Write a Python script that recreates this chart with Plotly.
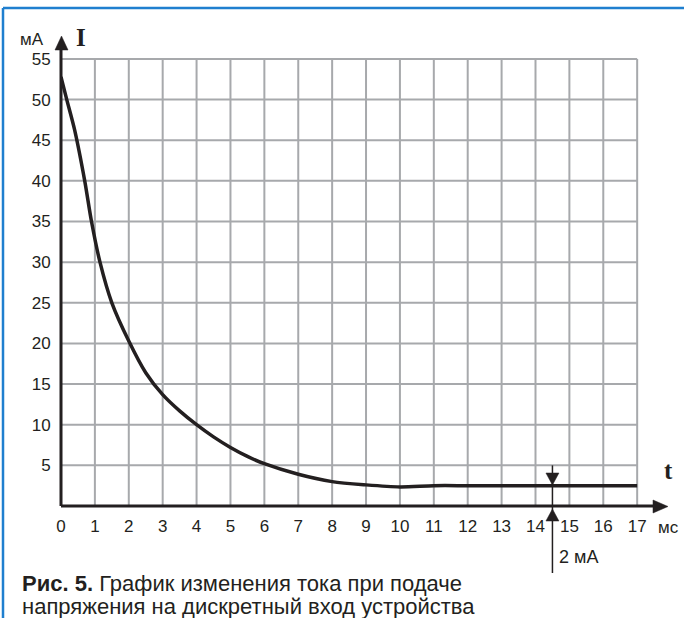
import plotly.graph_objects as go

# ---- data ----
t_ms = [0, 0.17, 0.4, 0.7, 0.9, 1.15, 1.5, 2.0, 2.5, 3.0, 3.5, 4.0, 4.5, 5, 5.5, 6, 7, 8, 9, 10, 11, 12, 13, 14, 15, 16, 17]
i_ma = [52.8, 50, 46.3, 40, 35, 30, 25, 20.3, 16.4, 13.7, 11.7, 10.0, 8.5, 7.2, 6.1, 5.2, 3.9, 3.0, 2.6, 2.35, 2.5, 2.5, 2.5, 2.5, 2.5, 2.5, 2.5]
x_ticks = list(range(0, 18))
y_ticks = list(range(5, 60, 5))
marker_t = 14.5
marker_label = "2 мА"
caption_lines = ["<b>Рис. 5.</b> График изменения тока при подаче",
                 "напряжения на дискретный вход устройства"]

# ---- geometry ----
W, H = 684, 618
L, R, T, B = 61, 17, 37, 112
XR = [0, 17.88]
YR = [0, 57.7]
pw, ph = W - L - R, H - T - B

def px(xp):  # pixel x -> paper
    return (xp - L) / pw

def py(yp):  # pixel y -> paper
    return (H - B - yp) / ph

def dx(v):  # data x -> paper
    return (v - XR[0]) / (XR[1] - XR[0])

def dy(v):
    return (v - YR[0]) / (YR[1] - YR[0])

GRID = "#a7a9ac"
INK = "#231f20"

fig = go.Figure()

# grid
gx, gy = [], []
for xv in x_ticks[1:]:
    gx += [xv, xv, None]
    gy += [0, 55, None]
for yv in y_ticks:
    gx += [0, 17, None]
    gy += [yv, yv, None]
fig.add_trace(go.Scatter(x=gx, y=gy, mode="lines", line=dict(color=GRID, width=2),
                         hoverinfo="skip", showlegend=False))

# current curve
fig.add_trace(go.Scatter(x=t_ms, y=i_ma, mode="lines",
                         line=dict(color=INK, width=3.5, shape="spline", smoothing=0.8),
                         showlegend=False))

shapes = []
# axes lines
shapes.append(dict(type="line", xref="paper", yref="paper", x0=0, y0=0, x1=px(656), y1=0,
                   line=dict(color=INK, width=3)))
shapes.append(dict(type="line", xref="paper", yref="paper", x0=0, y0=0, x1=0, y1=py(48),
                   line=dict(color=INK, width=3)))

def tri(points):
    p = "M " + " L ".join(f"{a},{b}" for a, b in points) + " Z"
    return dict(type="path", xref="paper", yref="paper", path=p,
                fillcolor=INK, line=dict(color=INK, width=0.5))

shapes.append(tri([(px(668), py(506.5)), (px(653), py(500)), (px(653), py(513))]))
shapes.append(tri([(px(61.5), py(36)), (px(55), py(50)), (px(68), py(50))]))

# 2 mA marker
mx = dx(marker_t)
mxp = L + mx * pw
shapes.append(dict(type="line", xref="paper", yref="paper", x0=mx, y0=dy(5), x1=mx, y1=py(573),
                   line=dict(color=INK, width=1.5)))
shapes.append(tri([(mx, py(485)), (px(mxp - 6.5), py(473)), (px(mxp + 6.5), py(473))]))
shapes.append(tri([(mx, py(509)), (px(mxp - 6.5), py(521)), (px(mxp + 6.5), py(521))]))

# blue frame
BLUE = "#1f7fcf"
shapes.append(dict(type="line", xref="paper", yref="paper", x0=px(3), y0=py(8), x1=px(690), y1=py(8),
                   line=dict(color=BLUE, width=2.5)))
shapes.append(dict(type="line", xref="paper", yref="paper", x0=px(3), y0=py(8), x1=px(3), y1=py(630),
                   line=dict(color=BLUE, width=2.5)))

ann = []
SANS = "Liberation Sans, Arial, Helvetica, sans-serif"
SERIF = "Liberation Serif, Times New Roman, serif"
ann.append(dict(x=px(32), y=py(39), text="мА", font=dict(family=SANS, size=17, color=INK)))
ann.append(dict(x=px(81), y=py(37), text="<b>I</b>", font=dict(family=SERIF, size=25, color=INK)))
ann.append(dict(x=px(668), y=py(470), text="<b>t</b>", font=dict(family=SERIF, size=25, color=INK)))
ann.append(dict(x=px(668), y=py(527), text="мс", font=dict(family=SANS, size=17, color=INK)))
ann.append(dict(x=px(mxp + 5), y=py(557), text=marker_label, xanchor="left",
                font=dict(family=SANS, size=18, color=INK)))
for line_text, ycen in zip(caption_lines, [583, 606]):
    ann.append(dict(x=px(20), y=py(ycen), text=line_text, xanchor="left", align="left",
                    font=dict(family=SANS, size=22, color=INK)))
for a in ann:
    a.update(xref="paper", yref="paper", showarrow=False)
    a.setdefault("xanchor", "center")
    a.setdefault("yanchor", "middle")

fig.update_layout(
    width=W, height=H,
    margin=dict(l=L, r=R, t=T, b=B, pad=0),
    paper_bgcolor="white", plot_bgcolor="white",
    shapes=shapes, annotations=ann,
    xaxis=dict(range=XR, tickvals=x_ticks, ticktext=[str(v) for v in x_ticks],
               showgrid=False, zeroline=False, showline=False,
               ticks="outside", ticklen=5, tickcolor="rgba(0,0,0,0)",
               tickfont=dict(family=SANS, size=17, color=INK), fixedrange=True),
    yaxis=dict(range=YR, tickvals=y_ticks, ticktext=[str(v) for v in y_ticks],
               showgrid=False, zeroline=False, showline=False,
               ticks="outside", ticklen=6, tickcolor="rgba(0,0,0,0)",
               tickfont=dict(family=SANS, size=17, color=INK), fixedrange=True),
)

fig.write_html("out.html", config={"displayModeBar": False},
               post_script="document.body.style.margin='0';document.body.style.padding='0';")
